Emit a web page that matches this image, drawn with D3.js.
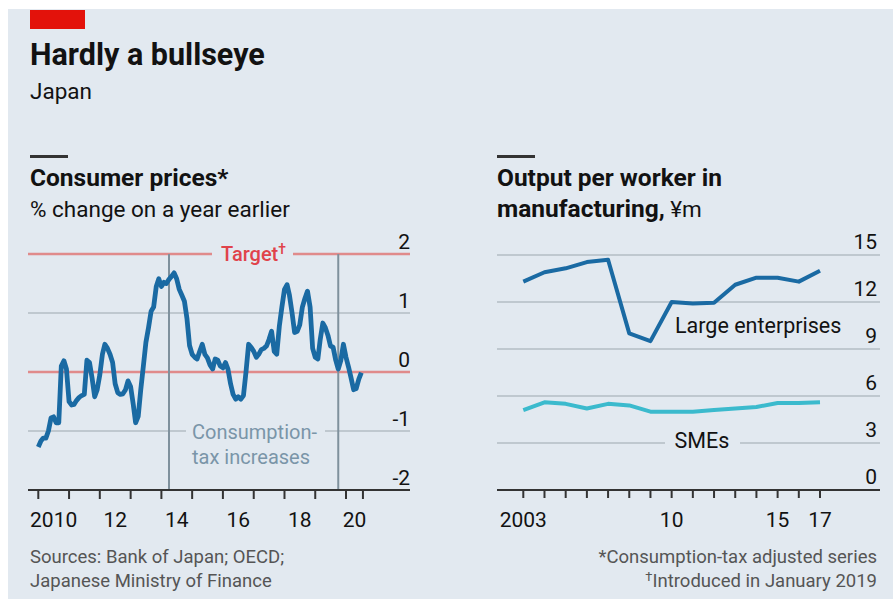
<!DOCTYPE html>
<html>
<head>
<meta charset="utf-8">
<script src="https://cdn.jsdelivr.net/npm/d3@7"></script>
<style>
	body { margin: 0; background: #ffffff; }
	svg text { font-family: Roboto, "Noto Sans", sans-serif; }
</style>
</head>
<body>
<script>
// Consumer prices, % change on a year earlier, monthly from Jan 2010
var cpiStart = [2010, 0];
var cpiValues = [
	-1.27, -1.17, -1.12, -1.12, -1.00, -0.78, -0.76, -0.86, -0.86, 0.10, 0.19, 0.05,   // 2010
	-0.50, -0.56, -0.55, -0.48, -0.43, -0.40, -0.38, 0.20, 0.16, -0.10, -0.42, -0.30,  // 2011
	-0.05, 0.30, 0.47, 0.40, 0.30, 0.16, -0.20, -0.35, -0.38, -0.37, -0.30, -0.15,     // 2012
	-0.25, -0.55, -0.86, -0.75, -0.30, 0.10, 0.50, 0.75, 1.03, 1.10, 1.45, 1.58,       // 2013
	1.45, 1.52, 1.50, 1.57, 1.62, 1.68, 1.58, 1.40, 1.30, 1.20, 0.90, 0.45,            // 2014
	0.30, 0.25, 0.22, 0.35, 0.47, 0.30, 0.24, 0.12, 0.05, 0.22, 0.20, 0.10,            // 2015
	0.07, 0.16, 0.05, -0.20, -0.38, -0.46, -0.42, -0.46, -0.40, 0.00, 0.47, 0.42,      // 2016
	0.35, 0.25, 0.30, 0.38, 0.40, 0.44, 0.55, 0.69, 0.35, 0.30, 0.78, 1.10,            // 2017
	1.40, 1.48, 1.30, 1.00, 0.67, 0.69, 0.80, 1.10, 1.25, 1.37, 1.10, 0.40,            // 2018
	0.25, 0.22, 0.55, 0.83, 0.75, 0.62, 0.44, 0.42, 0.20, 0.05, 0.20, 0.47,            // 2019
	0.25, 0.08, -0.10, -0.30, -0.28, -0.12, -0.01                                      // 2020
];
var cpiTarget = 2;
var taxIncreases = [[2014, 3], [2019, 9]];
var cpiTickYears = [2010, 2011, 2012, 2013, 2014, 2015, 2016, 2017, 2018, 2019, 2020];
var cpiLabels = {2010: "2010", 2012: "12", 2014: "14", 2016: "16", 2018: "18", 2020: "20"};
var cpiYTicks = [2, 1, 0, -1, -2];

// Output per worker in manufacturing, ¥m
var outputYears = [2003, 2004, 2005, 2006, 2007, 2008, 2009, 2010, 2011, 2012, 2013, 2014, 2015, 2016, 2017];
var largeValues = [13.3, 13.9, 14.15, 14.55, 14.7, 10.0, 9.5, 12.0, 11.9, 11.95, 13.1, 13.55, 13.55, 13.3, 14.0];
var smeValues = [5.1, 5.6, 5.5, 5.2, 5.5, 5.4, 5.0, 5.0, 5.0, 5.1, 5.2, 5.3, 5.55, 5.55, 5.6];
var outputLabels = {2003: "2003", 2010: "10", 2015: "15", 2017: "17"};
var outputYTicks = [15, 12, 9, 6, 3, 0];

var W = 893, H = 599;
var ink = "#121212", grey = "#555", grid = "#b3bdc4", pink = "#e08b8b";
var blue = "#1a6aa3", cyan = "#3bbacd";

var svg = d3.select("body").append("svg")
	.attr("width", W)
	.attr("height", H);

svg.append("rect")
	.attr("x", 8).attr("y", 9)
	.attr("width", W - 8).attr("height", H - 9)
	.attr("fill", "#e2e9f0");

svg.append("rect")
	.attr("x", 30).attr("y", 10)
	.attr("width", 55).attr("height", 19)
	.attr("fill", "#e3120b");

svg.append("text").attr("x", 30).attr("y", 65)
	.attr("font-size", 30.5).attr("font-weight", 700).attr("fill", ink)
	.text("Hardly a bullseye");
svg.append("text").attr("x", 30).attr("y", 99)
	.attr("font-size", 22.5).attr("fill", ink)
	.text("Japan");

/* panel headings */
function heading(x, lines) {
	svg.append("rect").attr("x", x).attr("y", 155).attr("width", 38).attr("height", 3).attr("fill", "#333");
	lines.forEach(function(l, i) {
		var t = svg.append("text").attr("x", x).attr("y", 186 + i * 31).attr("fill", ink);
		l.forEach(function(part) {
			t.append("tspan")
				.attr("font-size", part.bold ? 24.5 : 22.5)
				.attr("font-weight", part.bold ? 700 : 400)
				.text(part.text);
		});
	});
}
heading(30, [[{text: "Consumer prices*", bold: true}], [{text: "% change on a year earlier"}]]);
heading(497, [[{text: "Output per worker in", bold: true}], [{text: "manufacturing,", bold: true}, {text: " ¥m"}]]);

/* ---------- left: consumer prices ---------- */
var cpiData = cpiValues.map(function(v, i) {
	return {date: new Date(cpiStart[0], cpiStart[1] + i, 1), value: v};
});
var lastDate = new Date(cpiStart[0], cpiStart[1] + cpiValues.length - 1, 20);

var xL = d3.scaleTime()
	.domain([new Date(2010, 0, 1), new Date(2020, 0, 1)])
	.range([38.3, 346]);
var yL = d3.scaleLinear().domain([-2, 2]).range([490, 254]);
var left = svg.append("g");
var lx0 = 28, lx1 = 410;

// gridlines
left.append("line").attr("x1", lx0).attr("x2", lx1).attr("y1", yL(1)).attr("y2", yL(1))
	.attr("stroke", grid).attr("stroke-width", 1.5);
left.append("line").attr("x1", lx0).attr("x2", 186).attr("y1", yL(-1)).attr("y2", yL(-1))
	.attr("stroke", grid).attr("stroke-width", 1.5);
left.append("line").attr("x1", 325).attr("x2", lx1).attr("y1", yL(-1)).attr("y2", yL(-1))
	.attr("stroke", grid).attr("stroke-width", 1.5);
left.append("line").attr("x1", lx0).attr("x2", lx1).attr("y1", yL(0)).attr("y2", yL(0))
	.attr("stroke", pink).attr("stroke-width", 2.5);
// target line, broken for its label
left.append("line").attr("x1", lx0).attr("x2", 212).attr("y1", yL(cpiTarget)).attr("y2", yL(cpiTarget))
	.attr("stroke", pink).attr("stroke-width", 2.5);
left.append("line").attr("x1", 293).attr("x2", lx1).attr("y1", yL(cpiTarget)).attr("y2", yL(cpiTarget))
	.attr("stroke", pink).attr("stroke-width", 2.5);
var tgt = left.append("text").attr("x", 221).attr("y", yL(cpiTarget) + 7)
	.attr("font-size", 20).attr("font-weight", 500).attr("fill", "#e0434b");
tgt.append("tspan").text("Target");
tgt.append("tspan").attr("font-size", 14).attr("dy", -7).text("†");

// consumption-tax increases
taxIncreases.forEach(function(d) {
	var x = xL(new Date(d[0], d[1], 1));
	left.append("line").attr("x1", x).attr("x2", x).attr("y1", yL(2)).attr("y2", yL(-2))
		.attr("stroke", "#7f919d").attr("stroke-width", 2);
});
left.append("text").attr("x", 192).attr("y", 439)
	.attr("font-size", 20).attr("fill", "#7a95a8").text("Consumption-");
left.append("text").attr("x", 192).attr("y", 464)
	.attr("font-size", 20).attr("fill", "#7a95a8").text("tax increases");

// y labels
cpiYTicks.forEach(function(v) {
	left.append("text").attr("x", lx1).attr("y", yL(v) - 5)
		.attr("text-anchor", "end").attr("font-size", 21).attr("fill", ink)
		.text(v);
});

// the line
left.append("path")
	.datum(cpiData)
	.attr("fill", "none")
	.attr("stroke", blue)
	.attr("stroke-width", 4.8)
	.attr("stroke-linejoin", "round")
	.attr("d", d3.line()
		.x(function(d) { return xL(d.date); })
		.y(function(d) { return yL(d.value); }));

// x axis
left.append("line").attr("x1", lx0).attr("x2", lx1).attr("y1", 490).attr("y2", 490)
	.attr("stroke", "#333").attr("stroke-width", 2);
var cpiTicks = cpiTickYears.map(function(y) { return new Date(y, 0, 1); }).concat([lastDate]);
cpiTicks.forEach(function(d) {
	left.append("line").attr("x1", xL(d)).attr("x2", xL(d)).attr("y1", 490).attr("y2", 499)
		.attr("stroke", "#333").attr("stroke-width", 2);
});
cpiTickYears.forEach(function(y, i) {
	if (!cpiLabels[y]) return;
	var a = xL(cpiTicks[i]), b = xL(cpiTicks[i + 1]);
	left.append("text").attr("x", (a + b) / 2).attr("y", 527)
		.attr("text-anchor", "middle").attr("font-size", 21).attr("fill", ink)
		.text(cpiLabels[y]);
});

/* ---------- right: output per worker ---------- */
var xR = d3.scaleLinear().domain([2003, 2017]).range([523.3, 820]);
var yR = d3.scaleLinear().domain([0, 15]).range([490, 255]);
var right = svg.append("g");
var rx0 = 497, rx1 = 880;

outputYTicks.forEach(function(v) {
	if (v === 0) return;
	if (v === 3) {
		right.append("line").attr("x1", rx0).attr("x2", 665).attr("y1", yR(v)).attr("y2", yR(v))
			.attr("stroke", grid).attr("stroke-width", 1.5);
		right.append("line").attr("x1", 740).attr("x2", rx1).attr("y1", yR(v)).attr("y2", yR(v))
			.attr("stroke", grid).attr("stroke-width", 1.5);
	} else {
		right.append("line").attr("x1", rx0).attr("x2", rx1).attr("y1", yR(v)).attr("y2", yR(v))
			.attr("stroke", grid).attr("stroke-width", 1.5);
	}
});
outputYTicks.forEach(function(v) {
	right.append("text").attr("x", 877).attr("y", yR(v) - 6)
		.attr("text-anchor", "end").attr("font-size", 21).attr("fill", ink)
		.text(v);
});

var line = d3.line()
	.x(function(d, i) { return xR(outputYears[i]); })
	.y(function(d) { return yR(d); });
right.append("path").datum(smeValues)
	.attr("fill", "none").attr("stroke", cyan).attr("stroke-width", 4)
	.attr("stroke-linejoin", "round").attr("d", line);
right.append("path").datum(largeValues)
	.attr("fill", "none").attr("stroke", blue).attr("stroke-width", 4)
	.attr("stroke-linejoin", "round").attr("d", line);

right.append("text").attr("x", 675).attr("y", 333)
	.attr("font-size", 21.5).attr("fill", ink).text("Large enterprises");
right.append("text").attr("x", 702).attr("y", 448)
	.attr("text-anchor", "middle").attr("font-size", 21.5).attr("fill", ink).text("SMEs");

right.append("line").attr("x1", rx0).attr("x2", rx1).attr("y1", 490).attr("y2", 490)
	.attr("stroke", "#333").attr("stroke-width", 2);
outputYears.forEach(function(y) {
	right.append("line").attr("x1", xR(y)).attr("x2", xR(y)).attr("y1", 490).attr("y2", 498)
		.attr("stroke", "#333").attr("stroke-width", 2);
	if (outputLabels[y]) {
		right.append("text").attr("x", xR(y)).attr("y", 527)
			.attr("text-anchor", "middle").attr("font-size", 21).attr("fill", ink)
			.text(outputLabels[y]);
	}
});

/* ---------- footnotes ---------- */
svg.append("text").attr("x", 30).attr("y", 563)
	.attr("font-size", 18.5).attr("fill", grey).text("Sources: Bank of Japan; OECD;");
svg.append("text").attr("x", 30).attr("y", 587)
	.attr("font-size", 18.5).attr("fill", grey).text("Japanese Ministry of Finance");
svg.append("text").attr("x", 877).attr("y", 563).attr("text-anchor", "end")
	.attr("font-size", 18.5).attr("fill", grey).text("*Consumption-tax adjusted series");
var fn = svg.append("text").attr("x", 877).attr("y", 587).attr("text-anchor", "end")
	.attr("font-size", 18.5).attr("fill", grey);
fn.append("tspan").attr("font-size", 13).attr("dy", -6).text("†");
fn.append("tspan").attr("dy", 6).text("Introduced in January 2019");
</script>
</body>
</html>
